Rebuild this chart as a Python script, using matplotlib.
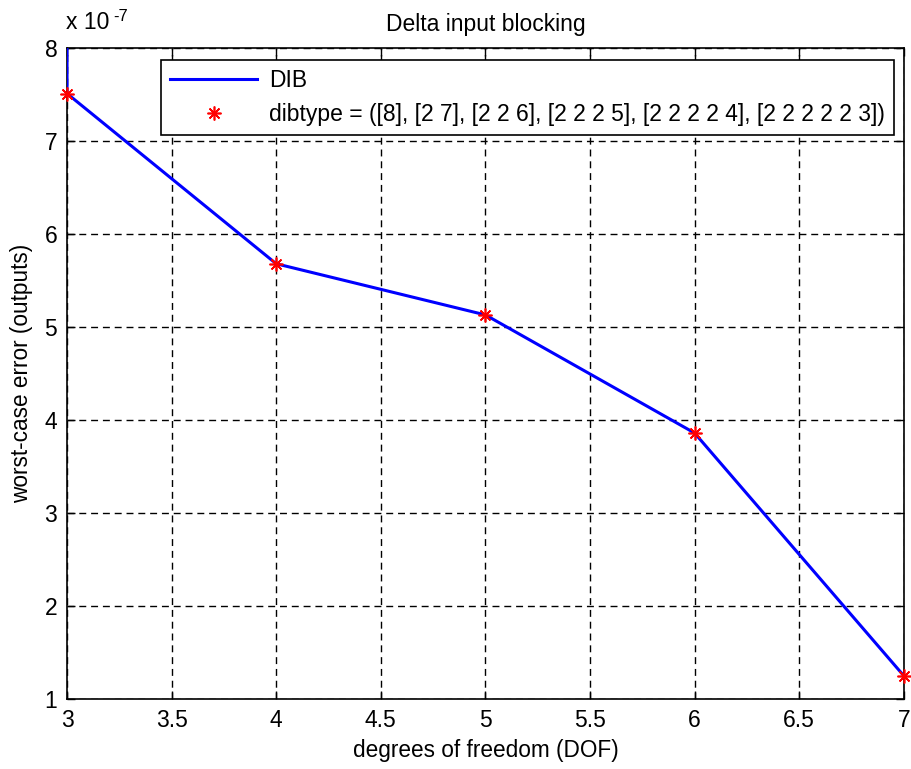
"""Worst-case output error vs degrees of freedom for delta input blocking."""

import matplotlib

matplotlib.use("Agg")
import matplotlib.pyplot as plt
import numpy as np

plt.rcParams["font.family"] = ["Liberation Sans", "DejaVu Sans"]

# DOF per blocking type; first entry lies above the visible range (clipped)
dof = [3, 3, 4, 5, 6, 7]
# worst-case error in units of 1e-7
err = [9.2, 7.51, 5.68, 5.13, 3.86, 1.25]
marker_dof = [3, 4, 5, 6, 7]
marker_err = [7.51, 5.68, 5.13, 3.86, 1.25]
x_ticks = [3, 3.5, 4, 4.5, 5, 5.5, 6, 6.5, 7]
x_tick_labels = ["3", "3.5", "4", "4.5", "5", "5.5", "6", "6.5", "7"]
y_ticks = [1, 2, 3, 4, 5, 6, 7, 8]

fig = plt.figure(figsize=(9.12, 7.69), dpi=100)
ax = fig.add_axes([0.0735, 0.091, 0.9175, 0.8466])

line, = ax.plot(dof, err, color="blue", linewidth=2.2, label="DIB", zorder=3)
pts, = ax.plot(marker_dof, marker_err, linestyle="none", marker=(8, 2, 0),
               markersize=10, markeredgewidth=1.2, color="red",
               label="dibtype = ([8], [2 7], [2 2 6], [2 2 2 5], [2 2 2 2 4], [2 2 2 2 2 3])",
               zorder=4, clip_on=False)

ax.set_xlim(3, 7)
ax.set_ylim(1, 8)
ax.set_xticks(x_ticks)
ax.set_xticklabels(x_tick_labels)
ax.set_yticks(y_ticks)
ax.tick_params(direction="in", length=6, width=1, labelsize=16.5, top=True, right=True, pad=7)
ax.grid(True, color="black", linestyle=(0, (5, 3.5)), linewidth=1)
for s in ax.spines.values():
    s.set_linewidth(1.2)

ax.set_xlabel("degrees of freedom (DOF)", fontsize=16.3, labelpad=5)
ax.set_ylabel("worst-case error (outputs)", fontsize=16.3, labelpad=8)
ax.set_title("Delta input blocking", fontsize=16.5, pad=12)
fig.text(0.072, 0.956, "x 10", fontsize=16.5, ha="left", va="bottom")
fig.text(0.124, 0.969, "-7", fontsize=12, ha="left", va="bottom")

leg = ax.legend(handles=[line, pts], loc="upper right", bbox_to_anchor=(0.988, 0.982),
                fontsize=16.5, fancybox=False, edgecolor="black", framealpha=1,
                handlelength=3.8, handletextpad=0.5, borderpad=0.4, labelspacing=0.5,
                borderaxespad=0)
leg.get_frame().set_linewidth(1.2)

fig.savefig("out.png", dpi=100)
plt.close(fig)
